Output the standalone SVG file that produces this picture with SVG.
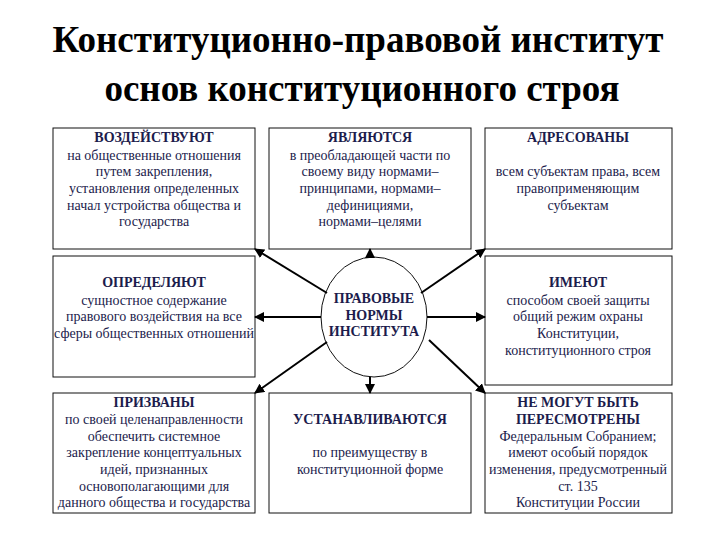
<svg xmlns="http://www.w3.org/2000/svg" width="720" height="540" viewBox="0 0 720 540">
<style>
.b{fill:#fff;stroke:#111;stroke-width:1}
.t{font-family:'Liberation Serif','Times New Roman','DejaVu Serif',serif;font-size:14px;fill:#1c1c4c;text-anchor:middle}
.h{font-weight:bold}
.ti{font-family:'Liberation Serif','Times New Roman','DejaVu Serif',serif;font-size:37px;font-weight:bold;fill:#000;text-anchor:middle}
.c{stroke:#000;stroke-width:2;marker-end:url(#a)}
</style>
<defs><marker id="a" viewBox="0 0 10 10" refX="9" refY="5" markerWidth="5" markerHeight="5" orient="auto"><path d="M0,0L10,5L0,10z" fill="#000"/></marker></defs>
<rect width="720" height="540" fill="#fff"/>
<text class="ti" x="358" y="52">Конституционно-правовой институт</text>
<text class="ti" x="362" y="101">основ конституционного строя</text>
<g id="n1"><rect class="b" x="53" y="128" width="202" height="121"/>
<text class="t"><tspan class="h" x="154" y="142">ВОЗДЕЙСТВУЮТ</tspan><tspan x="154" y="160">на общественные отношения</tspan><tspan x="154" y="176">путем закрепления,</tspan><tspan x="154" y="193">установления определенных</tspan><tspan x="154" y="210">начал устройства общества и</tspan><tspan x="154" y="226">государства</tspan></text></g>
<g id="n2"><rect class="b" x="269" y="128" width="202" height="121"/>
<text class="t"><tspan class="h" x="370" y="142">ЯВЛЯЮТСЯ</tspan><tspan x="370" y="160">в преобладающей части по</tspan><tspan x="370" y="176">своему виду нормами–</tspan><tspan x="370" y="193">принципами, нормами–</tspan><tspan x="370" y="210">дефинициями,</tspan><tspan x="370" y="226">нормами–целями</tspan></text></g>
<g id="n3"><rect class="b" x="485" y="128" width="187" height="121"/>
<text class="t"><tspan class="h" x="578" y="142">АДРЕСОВАНЫ</tspan><tspan x="578" y="176">всем субъектам права, всем</tspan><tspan x="578" y="193">правоприменяющим</tspan><tspan x="578" y="210">субъектам</tspan></text></g>
<g id="n4"><rect class="b" x="53" y="256" width="202" height="121"/>
<text class="t"><tspan class="h" x="154" y="287">ОПРЕДЕЛЯЮТ</tspan><tspan x="154" y="305">сущностное содержание</tspan><tspan x="154" y="321">правового воздействия на все</tspan><tspan x="154" y="338">сферы общественных отношений</tspan></text></g>
<g id="n5"><ellipse class="b" cx="374" cy="317" rx="53" ry="60"/>
<text class="t"><tspan class="h" x="374" y="303">ПРАВОВЫЕ</tspan><tspan class="h" x="374" y="320">НОРМЫ</tspan><tspan class="h" x="374" y="336">ИНСТИТУТА</tspan></text></g>
<g id="n6"><rect class="b" x="485" y="256" width="187" height="129"/>
<text class="t"><tspan class="h" x="578" y="287">ИМЕЮТ</tspan><tspan x="578" y="305">способом своей защиты</tspan><tspan x="578" y="321">общий режим охраны</tspan><tspan x="578" y="338">Конституции,</tspan><tspan x="578" y="355">конституционного строя</tspan></text></g>
<g id="n7"><rect class="b" x="53" y="393" width="202" height="120"/>
<text class="t"><tspan class="h" x="154" y="407">ПРИЗВАНЫ</tspan><tspan x="154" y="424">по своей целенаправленности</tspan><tspan x="154" y="441">обеспечить системное</tspan><tspan x="154" y="457">закрепление концептуальных</tspan><tspan x="154" y="474">идей, признанных</tspan><tspan x="154" y="491">основополагающими для</tspan><tspan x="154" y="507">данного общества и государства</tspan></text></g>
<g id="n8"><rect class="b" x="269" y="393" width="202" height="120"/>
<text class="t"><tspan class="h" x="370" y="424">УСТАНАВЛИВАЮТСЯ</tspan><tspan x="370" y="457">по преимуществу в</tspan><tspan x="370" y="474">конституционной форме</tspan></text></g>
<g id="n9"><rect class="b" x="485" y="393" width="187" height="120"/>
<text class="t"><tspan class="h" x="578" y="407">НЕ МОГУТ БЫТЬ</tspan><tspan class="h" x="578" y="424">ПЕРЕСМОТРЕНЫ</tspan><tspan x="578" y="441">Федеральным Собранием;</tspan><tspan x="578" y="457">имеют особый порядок</tspan><tspan x="578" y="474">изменения, предусмотренный</tspan><tspan x="578" y="491">ст. 135</tspan><tspan x="578" y="507">Конституции России</tspan></text></g>
<g id="connectors">
<line class="c" x1="370" y1="257" x2="370" y2="249"/>
<line class="c" x1="370" y1="377" x2="370" y2="393"/>
<line class="c" x1="321" y1="317" x2="255" y2="317"/>
<line class="c" x1="427" y1="317" x2="485" y2="317"/>
<line class="c" x1="327" y1="293" x2="255" y2="249"/>
<line class="c" x1="421" y1="293" x2="485" y2="249"/>
<line class="c" x1="327" y1="342" x2="255" y2="393"/>
<line class="c" x1="429" y1="340" x2="485" y2="393"/>
</g>
</svg>
